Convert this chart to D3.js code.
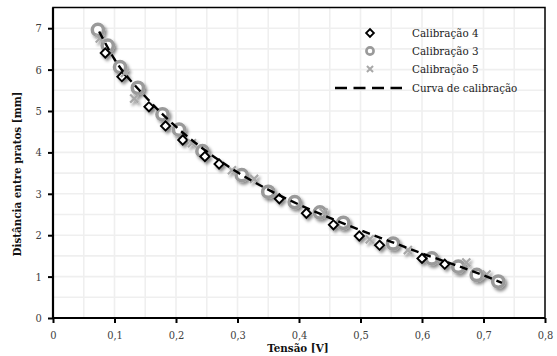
<!DOCTYPE html>
<html><head><meta charset="utf-8">
<script src="https://cdn.jsdelivr.net/npm/d3@7"></script>
<style>body{margin:0;background:#fff}svg{display:block}</style>
</head><body>
<svg id="c" width="557" height="356"></svg>
<script>
// ---- data ----
const cal4V = [0.085, 0.112, 0.156, 0.183, 0.211, 0.247, 0.270, 0.368, 0.412, 0.456, 0.498, 0.531, 0.600, 0.637];
const cal4D = [6.40, 5.83, 5.10, 4.64, 4.30, 3.90, 3.72, 2.88, 2.53, 2.25, 1.98, 1.76, 1.44, 1.30];
const cal3V = [0.073, 0.089, 0.109, 0.138, 0.178, 0.205, 0.243, 0.307, 0.350, 0.393, 0.434, 0.472, 0.553, 0.616, 0.659, 0.689, 0.724];
const cal3D = [6.96, 6.58, 6.06, 5.56, 4.92, 4.55, 4.03, 3.45, 3.05, 2.80, 2.55, 2.30, 1.80, 1.44, 1.24, 1.04, 0.88];
const cal5V = [0.076, 0.117, 0.132, 0.226, 0.291, 0.327, 0.440, 0.515, 0.577, 0.672, 0.705];
const cal5D = [6.75, 5.92, 5.30, 4.22, 3.57, 3.36, 2.55, 1.90, 1.64, 1.34, 1.05];
const curveV = [0.075, 0.10, 0.15, 0.20, 0.25, 0.30, 0.35, 0.40, 0.45, 0.50, 0.55, 0.60, 0.65, 0.70, 0.73];
const curveD = [6.92, 6.25, 5.35, 4.62, 4.02, 3.52, 3.10, 2.74, 2.42, 2.12, 1.84, 1.56, 1.30, 1.03, 0.85];
const xTicks = [0, 0.1, 0.2, 0.3, 0.4, 0.5, 0.6, 0.7, 0.8];
const yTicks = [0, 1, 2, 3, 4, 5, 6, 7];
const legendLabels = ["Calibração 4", "Calibração 3", "Calibração 5", "Curva de calibração"];
const xTitle = "Tensão [V]";
const yTitle = "Distância entre pratos [mm]";

// ---- chart ----
const svg = d3.select("#c");
const x = d3.scaleLinear().domain([0, 0.8]).range([53, 545]);
const y = d3.scaleLinear().domain([0, 7.5]).range([318, 7.5]);
const FONT = "'DejaVu Serif Condensed', 'DejaVu Serif', 'Liberation Serif', serif";

const defs = svg.append("defs");
const f = defs.append("filter").attr("id", "sh").attr("x", "-50%").attr("y", "-50%").attr("width", "200%").attr("height", "200%");
f.append("feDropShadow").attr("dx", 2).attr("dy", 2.5).attr("stdDeviation", 1.6).attr("flood-color", "#000").attr("flood-opacity", 0.45);

// grid
const gx = d3.range(0.05, 0.8, 0.05);
const gy = d3.range(0.5, 7.5, 0.5);
svg.append("g").selectAll("line").data(gx).join("line")
  .attr("x1", d => x(d)).attr("x2", d => x(d)).attr("y1", y(0)).attr("y2", y(7.5))
  .attr("stroke", "#efefef").attr("stroke-width", 1.6);
svg.append("g").selectAll("line").data(gy).join("line")
  .attr("y1", d => y(d)).attr("y2", d => y(d)).attr("x1", x(0)).attr("x2", x(0.8))
  .attr("stroke", "#efefef").attr("stroke-width", 1.6);

// frame
svg.append("rect").attr("x", x(0)).attr("y", y(7.5)).attr("width", x(0.8) - x(0)).attr("height", y(0) - y(7.5))
  .attr("fill", "none").attr("stroke", "#000").attr("stroke-width", 1.5);

// axes
const xAxis = svg.append("g").attr("transform", `translate(0,${y(0)})`)
  .call(d3.axisBottom(x).tickValues(xTicks).tickSize(5).tickSizeOuter(0).tickFormat(d => d === 0 ? "0" : d3.format(".1f")(d).replace(".", ",")));
const yAxis = svg.append("g").attr("transform", `translate(${x(0)},0)`)
  .call(d3.axisLeft(y).tickValues(yTicks).tickSize(5).tickSizeOuter(0).tickFormat(d3.format("d")));
[xAxis, yAxis].forEach(g => {
  g.select(".domain").attr("stroke", "#000").attr("stroke-width", 2.2);
  g.selectAll(".tick line").attr("stroke", "#000").attr("stroke-width", 2);
  g.selectAll(".tick text").attr("font-family", FONT).attr("font-size", 11).attr("fill", "#404040");
});
xAxis.selectAll(".tick text").attr("dy", "1.2em");
yAxis.selectAll(".tick text").attr("dx", "-0.3em");
yAxis.select(".domain").attr("d", `M0,${y(0)}V${y(7.5)}`);
xAxis.select(".domain").attr("d", `M${x(0)},0H${x(0.8)}`);

// markers
const diamond = d3.symbol().type(d3.symbolSquare).size(42);
const gPts = svg.append("g").attr("filter", "url(#sh)");
gPts.selectAll("circle.c3").data(cal3V.map((v, i) => [v, cal3D[i]])).join("circle")
  .attr("class", "c3").attr("cx", d => x(d[0])).attr("cy", d => y(d[1])).attr("r", 5.6)
  .attr("fill", "#fff").attr("stroke", "#9a9a9a").attr("stroke-width", 3.5);
gPts.selectAll("path.c4").data(cal4V.map((v, i) => [v, cal4D[i]])).join("path")
  .attr("class", "c4").attr("d", diamond)
  .attr("transform", d => `translate(${x(d[0])},${y(d[1])}) rotate(45)`)
  .attr("fill", "#fff").attr("stroke", "#000").attr("stroke-width", 1.9);
const star = d3.symbol().type(d3.symbolX).size(44);
gPts.selectAll("path.c5").data(cal5V.map((v, i) => [v, cal5D[i]])).join("path")
  .attr("class", "c5").attr("d", star)
  .attr("transform", d => `translate(${x(d[0])},${y(d[1])})`)
  .attr("fill", "none").attr("stroke", "#a8a8a8").attr("stroke-width", 2.2);

// curve
svg.append("path").datum(curveV.map((v, i) => [v, curveD[i]]))
  .attr("d", d3.line().x(d => x(d[0])).y(d => y(d[1])).curve(d3.curveMonotoneX))
  .attr("fill", "none").attr("stroke", "#000").attr("stroke-width", 2.4).attr("stroke-dasharray", "8,5");

// legend
const lg = svg.append("g");
const ly = [33, 51, 69, 88];
const lx = 370;
lg.append("path").attr("d", d3.symbol().type(d3.symbolSquare).size(30)).attr("transform", `translate(${lx},${ly[0]}) rotate(45)`)
  .attr("fill", "#fff").attr("stroke", "#000").attr("stroke-width", 1.8);
lg.append("circle").attr("cx", lx).attr("cy", ly[1]).attr("r", 3.6).attr("fill", "#fff").attr("stroke", "#9a9a9a").attr("stroke-width", 2.6);
lg.append("path").attr("d", d3.symbol().type(d3.symbolX).size(26)).attr("transform", `translate(${lx},${ly[2]})`)
  .attr("fill", "none").attr("stroke", "#a8a8a8").attr("stroke-width", 2);
lg.append("line").attr("x1", 335).attr("x2", 402).attr("y1", ly[3]).attr("y2", ly[3])
  .attr("stroke", "#000").attr("stroke-width", 2.4).attr("stroke-dasharray", "12,6.5");
lg.selectAll("text").data(legendLabels).join("text")
  .attr("x", 412).attr("y", (d, i) => ly[i]).attr("dy", "0.35em")
  .attr("font-family", FONT).attr("font-size", 11.5).attr("fill", "#222").text(d => d);

// titles
svg.append("text").attr("x", 298).attr("y", 352).attr("text-anchor", "middle")
  .attr("font-family", FONT).attr("font-size", 11.5).attr("font-weight", "bold").attr("fill", "#111").text(xTitle);
svg.append("text").attr("transform", "translate(21,174) rotate(-90)").attr("text-anchor", "middle")
  .attr("font-family", FONT).attr("font-size", 11.5).attr("font-weight", "bold").attr("fill", "#111").text(yTitle);
</script>
</body></html>
